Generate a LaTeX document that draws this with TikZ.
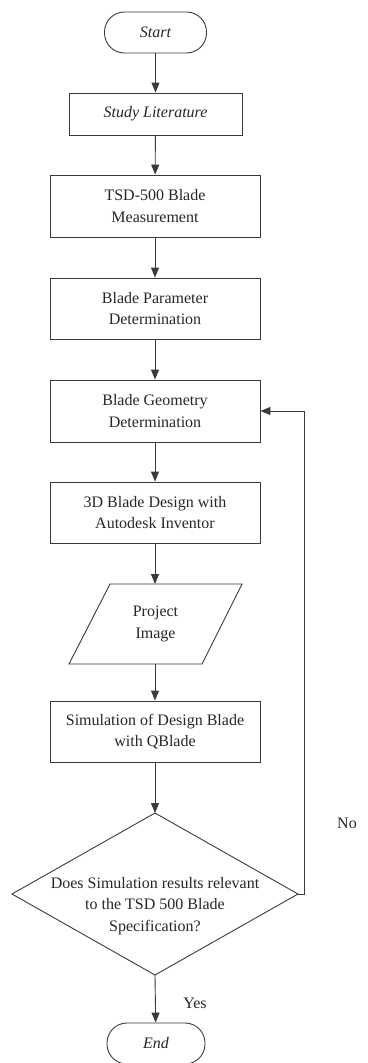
\documentclass[tikz,border=0pt]{standalone}
\usepackage{fontspec}
\setmainfont{Liberation Serif}
\usetikzlibrary{arrows.meta}
\definecolor{ln}{HTML}{3A3A3A}
\definecolor{tx}{HTML}{262626}
\begin{document}
\begin{tikzpicture}[x=1pt,y=-1pt,
  every node/.style={text=tx,font=\fontsize{16}{21.5}\selectfont,align=center,inner sep=0pt},
  procbox/.style={draw=ln,line width=0.9pt,minimum width=210pt,minimum height=61pt},
  termbox/.style={draw=ln,line width=0.9pt,rounded corners=20pt,minimum width=102pt,minimum height=41pt,font=\fontsize{16}{21.5}\selectfont\itshape},
  flow/.style={draw=ln,line width=0.9pt,-{Triangle[length=10pt,width=8pt]}},
  edge/.style={draw=ln,line width=0.9pt}]
\useasboundingbox (0,0) rectangle (367,1063);
\node[termbox] (start) at (155.5,32.5) {Start};
\node[procbox,minimum width=173pt,minimum height=42pt,font=\fontsize{16}{21.5}\selectfont\itshape] (lit) at (155.5,114) {Study Literature};
\node[procbox,minimum height=62pt] (tsd) at (155,206) {TSD-500 Blade\\Measurement};
\node[procbox] (param) at (155,308.5) {Blade Parameter\\Determination};
\node[procbox,minimum height=62pt] (geom) at (155,411) {Blade Geometry\\Determination};
\node[procbox] (cad) at (155,512.5) {3D Blade Design with\\Autodesk Inventor};
\node[minimum width=132pt,minimum height=80pt] (proj) at (155.5,624) {Project\\Image};
\draw[edge] (110,584) -- (242,584) -- (202,664) -- (69,664) -- cycle;
\node[procbox] (sim) at (155,731.5) {Simulation of Design Blade\\with QBlade};
\coordinate (dn) at (155,813);
\coordinate (ds) at (155,975);
\coordinate (dw) at (12,894);
\coordinate (de) at (298,894);
\draw[edge] (dn) -- (de) -- (ds) -- (dw) -- cycle;
\node (dec) at (155,906) {Does Simulation results relevant\\to the TSD 500 Blade\\Specification?};
\node[termbox,minimum width=98pt] (end) at (156,1043.5) {End};
\coordinate (fb) at (304,894);
\coordinate (fbt) at (304,411);
\node (yes) at (195,1003) {Yes};
\node (no) at (347,823) {No};
\draw[flow] (start) -- (lit);
\draw[flow] (lit) -- (tsd);
\draw[flow] (tsd) -- (param);
\draw[flow] (param) -- (geom);
\draw[flow] (geom) -- (cad);
\draw[flow] (cad.south) -- (155,584);
\draw[flow] (155,664) -- (sim.north);
\draw[flow] (sim) -- (dn);
\draw[flow] (ds) -- (end);
\draw[flow] (de) -- (fb) -- (fbt) -- (geom.east);
\end{tikzpicture}
\end{document}
